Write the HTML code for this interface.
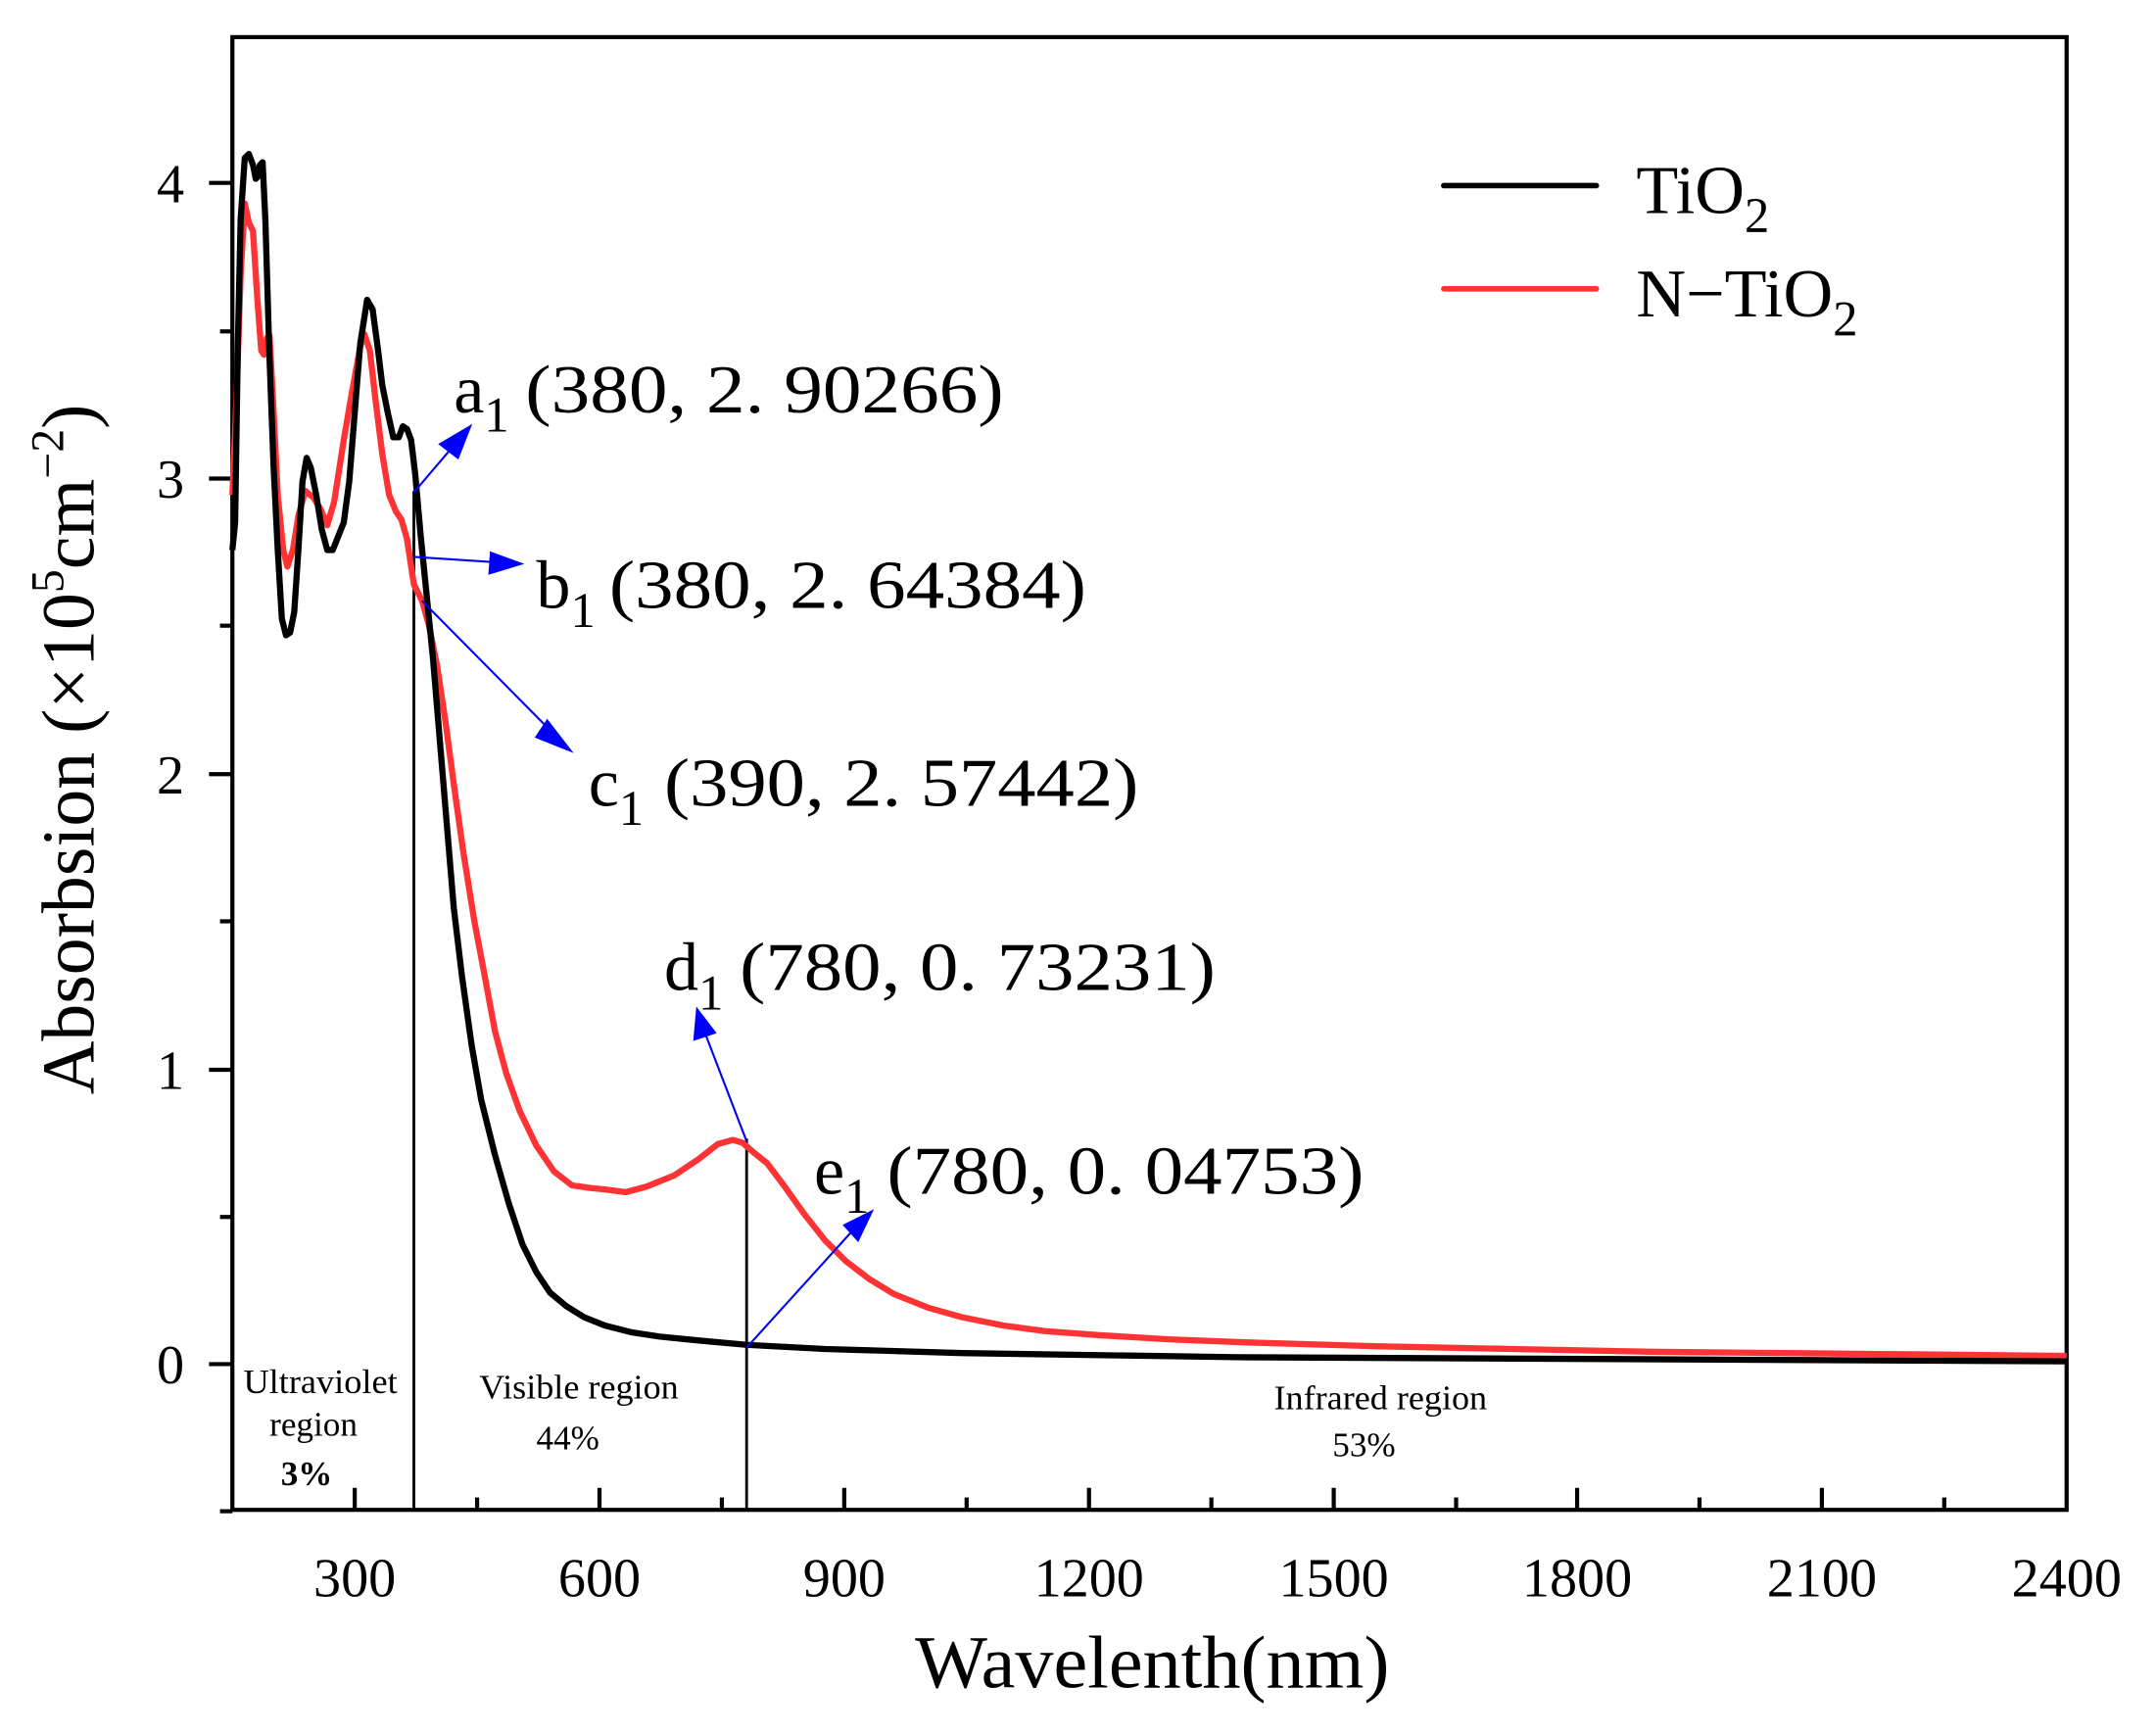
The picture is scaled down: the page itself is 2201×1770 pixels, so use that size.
<!DOCTYPE html>
<html><head><meta charset="utf-8"><style>
html,body{margin:0;padding:0;background:#fff;}
svg{display:block;}
text{font-family:"Liberation Serif","Noto Serif CJK SC",serif;fill:#000;}
</style></head><body>
<svg width="2201" height="1770" viewBox="0 0 1568 1261" preserveAspectRatio="none" xmlns="http://www.w3.org/2000/svg">
<rect width="1568" height="1261" fill="#fff"/>
<rect x="169" y="27" width="1334" height="1071" fill="none" stroke="#000" stroke-width="3"/>
<g stroke="#000" stroke-width="3">
<line x1="152" y1="992" x2="169" y2="992"/><line x1="152" y1="778" x2="169" y2="778"/>
<line x1="152" y1="563" x2="169" y2="563"/><line x1="152" y1="348" x2="169" y2="348"/>
<line x1="152" y1="133" x2="169" y2="133"/>
<line x1="160" y1="1099" x2="169" y2="1099"/><line x1="160" y1="885" x2="169" y2="885"/>
<line x1="160" y1="670" x2="169" y2="670"/><line x1="160" y1="455" x2="169" y2="455"/>
<line x1="160" y1="241" x2="169" y2="241"/>
</g>
<g stroke="#000" stroke-width="3">
<line x1="258" y1="1098" x2="258" y2="1082"/><line x1="436" y1="1098" x2="436" y2="1082"/>
<line x1="614" y1="1098" x2="614" y2="1082"/><line x1="792" y1="1098" x2="792" y2="1082"/>
<line x1="970" y1="1098" x2="970" y2="1082"/><line x1="1147" y1="1098" x2="1147" y2="1082"/>
<line x1="1325" y1="1098" x2="1325" y2="1082"/>
<line x1="347" y1="1098" x2="347" y2="1089"/><line x1="525" y1="1098" x2="525" y2="1089"/>
<line x1="703" y1="1098" x2="703" y2="1089"/><line x1="881" y1="1098" x2="881" y2="1089"/>
<line x1="1059" y1="1098" x2="1059" y2="1089"/><line x1="1236" y1="1098" x2="1236" y2="1089"/>
<line x1="1414" y1="1098" x2="1414" y2="1089"/>
</g>
<g font-size="40" text-anchor="end">
<text x="134" y="1006">0</text><text x="134" y="792">1</text><text x="134" y="577">2</text>
<text x="134" y="362">3</text><text x="134" y="147">4</text>
</g>
<g font-size="40" text-anchor="middle">
<text x="258" y="1161">300</text><text x="436" y="1161">600</text><text x="614" y="1161">900</text>
<text x="792" y="1161">1200</text><text x="970" y="1161">1500</text><text x="1147" y="1161">1800</text>
<text x="1325" y="1161">2100</text><text x="1503" y="1161">2400</text>
</g>
<text x="838" y="1227" font-size="54" text-anchor="middle" textLength="345" lengthAdjust="spacingAndGlyphs">Wavelenth(nm)</text>
<text transform="translate(68,545) rotate(-90)" font-size="54" text-anchor="middle">Absorbsion (×10<tspan font-size="34" dy="-22">5</tspan><tspan dy="22">cm</tspan><tspan font-size="34" dy="-22">−2</tspan><tspan dy="22">)</tspan></text>
<line x1="301" y1="357" x2="301" y2="1098" stroke="#000" stroke-width="2"/>
<line x1="543" y1="828" x2="543" y2="1098" stroke="#000" stroke-width="2"/>
<polyline fill="none" stroke="#f33" stroke-width="4.5" stroke-linejoin="round" points="169,360 172,290 175,200 178,148 181,162 184,168 187,215 190,255 192,258 194,246 196,244 198,280 202,360 206,400 209,412 213,400 217,375 222,357 228,362 233,370 238,382 243,365 250,320 256,285 262,252 265,243 269,255 273,290 278,330 283,360 288,372 292,378 296,392 301,425 307,437 312,455 318,485 324,525 330,570 337,620 345,670 352,707 360,750 368,780 378,808 390,833 403,852 416,862 430,864 440,865 455,867 470,863 490,855 508,843 522,832 533,829 540,831 548,838 558,846 570,862 585,883 600,902 615,917 632,930 650,941 675,951 700,958 730,964 760,968 800,971 850,974 900,976 1000,979 1100,981 1200,983 1300,984 1400,985 1503,986"/>
<polyline fill="none" stroke="#000" stroke-width="4.5" stroke-linejoin="round" points="169,400 171,380 173,250 175,160 178,115 181,112 184,120 186,130 188,128 189,120 191,118 193,160 196,260 199,340 202,400 205,450 208,462 211,460 214,445 217,400 220,350 223,333 226,340 230,360 234,385 238,400 242,400 246,390 250,380 254,350 258,300 262,250 267,218 271,225 275,255 278,280 282,300 286,318 290,318 293,310 296,312 299,320 302,345 306,390 310,430 315,480 320,540 325,600 330,660 336,710 343,760 350,800 360,840 370,875 380,905 390,925 400,940 412,950 425,958 440,964 460,969 480,972 510,975 543,978 600,981 700,984 900,987 1100,988 1300,989 1503,990"/>
<g stroke="#00f" stroke-width="1.5" fill="#00f">
<line x1="301" y1="358" x2="330" y2="324"/><polygon points="342,310 320,323 333,333"/>
<line x1="301" y1="405" x2="362" y2="409"/><polygon points="379,410 357,402 356,417"/>
<line x1="307" y1="437" x2="403" y2="534"/><polygon points="415,546 398,524 390,536"/>
<line x1="543" y1="830" x2="513" y2="752"/><polygon points="507,734 505,756 520,751"/>
<line x1="543" y1="980" x2="620" y2="895"/><polygon points="634,881 614,891 624,902"/>
</g>
<g font-size="50">
<text x="330" y="300">a<tspan font-size="36" dy="14">1</tspan><tspan x="382" dy="-14" textLength="348" lengthAdjust="spacingAndGlyphs">(380, 2. 90266)</tspan></text>
<text x="390" y="442">b<tspan font-size="36" dy="14">1</tspan><tspan x="443" dy="-14" textLength="347" lengthAdjust="spacingAndGlyphs">(380, 2. 64384)</tspan></text>
<text x="428" y="586">c<tspan font-size="36" dy="14">1</tspan><tspan x="483" dy="-14" textLength="345" lengthAdjust="spacingAndGlyphs">(390, 2. 57442)</tspan></text>
<text x="483" y="720">d<tspan font-size="36" dy="14">1</tspan><tspan x="538" dy="-14" textLength="346" lengthAdjust="spacingAndGlyphs">(780, 0. 73231)</tspan></text>
<text x="592" y="868">e<tspan font-size="36" dy="14">1</tspan><tspan x="645" dy="-14" textLength="347" lengthAdjust="spacingAndGlyphs">(780, 0. 04753)</tspan></text>
</g>
<line x1="1050" y1="135" x2="1161" y2="135" stroke="#000" stroke-width="4" stroke-linecap="round"/>
<line x1="1050" y1="210" x2="1161" y2="210" stroke="#f33" stroke-width="4" stroke-linecap="round"/>
<text x="1190" y="155" font-size="50">TiO<tspan font-size="36" dy="14">2</tspan></text>
<text x="1190" y="230" font-size="50">N−TiO<tspan font-size="36" dy="14">2</tspan></text>
<g font-size="25" text-anchor="middle">
<text x="233" y="1013" textLength="112" lengthAdjust="spacingAndGlyphs">Ultraviolet</text>
<text x="228" y="1044" textLength="64" lengthAdjust="spacingAndGlyphs">region</text>
<text x="223" y="1080" font-weight="bold">3%</text>
<text x="421" y="1017" textLength="145" lengthAdjust="spacingAndGlyphs">Visible region</text>
<text x="413" y="1054">44%</text>
<text x="1004" y="1025" textLength="155" lengthAdjust="spacingAndGlyphs">Infrared region</text>
<text x="992" y="1059">53%</text>
</g>
</svg>
</body></html>
